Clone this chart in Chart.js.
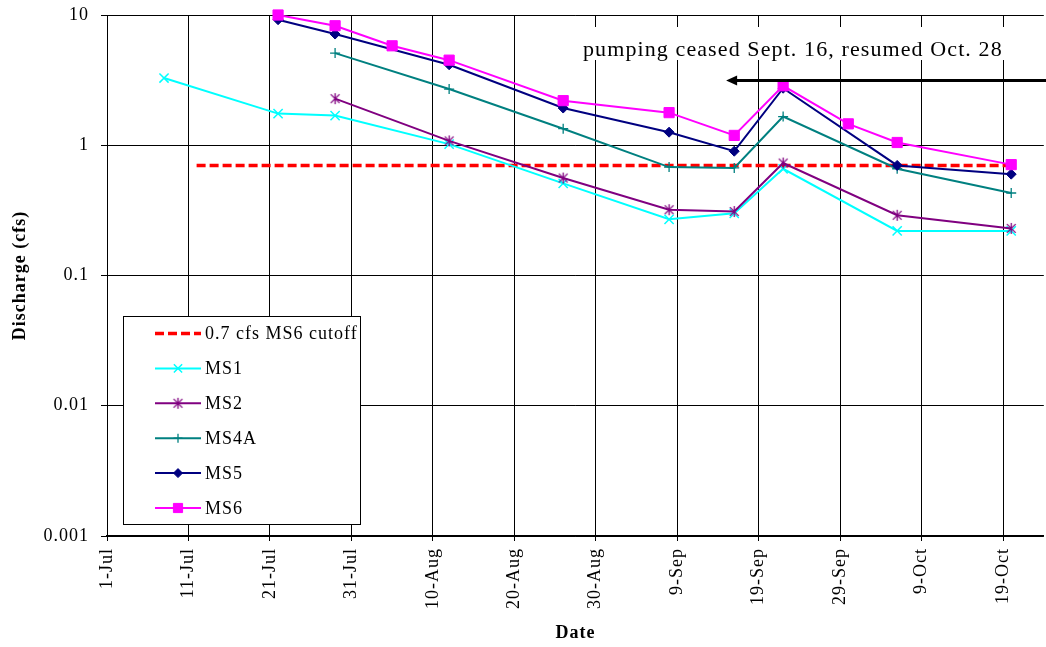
<!DOCTYPE html>
<html>
<head>
<meta charset="utf-8">
<script src="https://cdn.jsdelivr.net/npm/chart.js@4.4.1/dist/chart.umd.min.js"></script>
<style>
html,body{margin:0;padding:0;overflow:hidden;background:#fff;width:1046px;height:647px}
canvas{display:block}
</style>
</head>
<body>
<canvas id="c" width="1052" height="647"></canvas>
<script>
// ---------- data (dates as MM-DD, values in cfs) ----------
const monthNames = ['Jan','Feb','Mar','Apr','May','Jun','Jul','Aug','Sep','Oct','Nov','Dec'];
const seasonStart = '07-01';
const axisEnd = '10-24';
const xTickStepDays = 10;
const yTickValues = [0.001, 0.01, 0.1, 1, 10];

const cutoffDates  = ['07-12', '10-20'];
const cutoffValues = [0.7, 0.7];

const ms1Dates  = ['07-08','07-22','07-29','08-12','08-26','09-08','09-16','09-22','10-06','10-20'];
const ms1Values = [3.28, 1.75, 1.69, 1.02, 0.51, 0.27, 0.30, 0.66, 0.22, 0.22];

const ms2Dates  = ['07-29','08-12','08-26','09-08','09-16','09-22','10-06','10-20'];
const ms2Values = [2.28, 1.08, 0.56, 0.32, 0.31, 0.73, 0.29, 0.23];

const ms4aDates  = ['07-29','08-12','08-26','09-08','09-16','09-22','10-06','10-20'];
const ms4aValues = [5.1, 2.70, 1.34, 0.68, 0.67, 1.66, 0.66, 0.43];

const ms5Dates  = ['07-22','07-29','08-12','08-26','09-08','09-16','09-22','10-06','10-20'];
const ms5Values = [9.2, 7.14, 4.15, 1.93, 1.26, 0.90, 2.74, 0.70, 0.60];

const ms6Dates  = ['07-22','07-29','08-05','08-12','08-26','09-08','09-16','09-22','09-30','10-06','10-20'];
const ms6Values = [10.0, 8.27, 5.8, 4.5, 2.2, 1.78, 1.19, 2.86, 1.46, 1.05, 0.71];

const annotationText = 'pumping ceased Sept. 16, resumed Oct. 28';
const arrowFrom = '09-15';
const arrowTo = '10-28';

// ---------- helpers ----------
const YEAR = 2001;
function toUTC(md){ const [m,d] = md.split('-').map(Number); return Date.UTC(YEAR, m-1, d); }
function dayOf(md){ return (toUTC(md) - toUTC(seasonStart)) / 86400000; }
function labelOfDay(day){
  const dt = new Date(toUTC(seasonStart) + day*86400000);
  return dt.getUTCDate() + '-' + monthNames[dt.getUTCMonth()];
}
function pts(dates, values){ return dates.map((d,i)=>({x: dayOf(d), y: values[i]})); }

const SERIF = "'Liberation Serif', 'Times New Roman', serif";

// Excel-like star marker (X plus vertical bar)
function starCanvas(color, r){
  const s = Math.ceil(r*2+4), c = document.createElement('canvas');
  c.width = s; c.height = s;
  const g = c.getContext('2d'); const m = s/2;
  g.strokeStyle = color; g.lineWidth = 1.3;
  g.beginPath();
  g.moveTo(m-r*0.8, m-r*0.8); g.lineTo(m+r*0.8, m+r*0.8);
  g.moveTo(m+r*0.8, m-r*0.8); g.lineTo(m-r*0.8, m+r*0.8);
  g.moveTo(m, m-r); g.lineTo(m, m+r);
  g.stroke();
  return c;
}

const dsCutoff = {label:'0.7 cfs MS6 cutoff', data: pts(cutoffDates, cutoffValues), borderColor:'#FF0000',
  borderWidth:3.5, borderDash:[9,4], pointRadius:0, order:6};
const dsMS1 = {label:'MS1', data: pts(ms1Dates, ms1Values), borderColor:'#00FFFF', backgroundColor:'#00FFFF',
  borderWidth:2, pointStyle:'crossRot', pointRadius:6.5, pointBorderWidth:1.5, order:5};
const dsMS2 = {label:'MS2', data: pts(ms2Dates, ms2Values), borderColor:'#800080', backgroundColor:'#800080',
  borderWidth:2, pointStyle: starCanvas('#800080', 5.5), pointRadius:5.5, pointBorderWidth:1.3, order:4};
const dsMS4A = {label:'MS4A', data: pts(ms4aDates, ms4aValues), borderColor:'#008080', backgroundColor:'#008080',
  borderWidth:2, pointStyle:'cross', pointRadius:5, pointBorderWidth:1.3, order:3};
const dsMS5 = {label:'MS5', data: pts(ms5Dates, ms5Values), borderColor:'#000080', backgroundColor:'#000080',
  borderWidth:2, pointStyle:'rectRot', pointRadius:5, pointBorderWidth:1, order:2};
const dsMS6 = {label:'MS6', data: pts(ms6Dates, ms6Values), borderColor:'#FF00FF', backgroundColor:'#FF00FF',
  borderWidth:2, pointStyle:'rect', pointRadius:7.2, pointBorderWidth:1, order:1};

const datasets = [dsCutoff, dsMS1, dsMS2, dsMS4A, dsMS5, dsMS6];
datasets.forEach(d=>{ d.clip = false; d.tension = 0; d.fill = false; });

// ---------- plugins ----------
const spacingPlugin = {
  id:'spacing',
  beforeUpdate(chart){ chart.ctx.letterSpacing = '1px'; },
  beforeDraw(chart){ chart.ctx.letterSpacing = '1px'; }
};

const legendPlugin = {
  id:'boxLegend',
  afterDraw(chart){
    const ctx = chart.ctx;
    ctx.save();
    const bx = 123.5, by = 316.5, bw = 237, bh = 208;
    ctx.fillStyle = '#fff'; ctx.fillRect(bx, by, bw, bh);
    ctx.strokeStyle = '#000'; ctx.lineWidth = 1; ctx.setLineDash([]);
    ctx.strokeRect(bx, by, bw, bh);
    const rowY0 = 333.5, rowStep = 34.9;
    const x0 = 155, x1 = 201, xm = 178, tx = 205;
    datasets.forEach((d,i)=>{
      const y = rowY0 + i*rowStep;
      ctx.save();
      ctx.strokeStyle = d.borderColor; ctx.lineWidth = d.borderWidth;
      ctx.setLineDash(d.borderDash || []);
      ctx.beginPath(); ctx.moveTo(x0, y); ctx.lineTo(x1, y); ctx.stroke();
      ctx.setLineDash([]);
      if (d.pointRadius > 0){
        ctx.fillStyle = d.backgroundColor; ctx.strokeStyle = d.borderColor;
        ctx.lineWidth = d.pointBorderWidth;
        Chart.helpers.drawPoint(ctx, {pointStyle: d.pointStyle, radius: d.pointRadius*0.9, rotation:0, borderWidth: d.pointBorderWidth}, xm, y);
      }
      ctx.restore();
      ctx.fillStyle = '#000';
      ctx.font = '18px ' + SERIF;
      ctx.letterSpacing = '1px';
      ctx.textAlign = 'left'; ctx.textBaseline = 'middle';
      ctx.fillText(d.label, tx, y + 1);
    });
    ctx.restore();
  }
};

const annotationPlugin = {
  id:'pumpNote',
  afterDraw(chart){
    const ctx = chart.ctx, xs = chart.scales.x;
    ctx.save();
    ctx.font = '22px ' + SERIF;
    ctx.letterSpacing = '1.1px';
    const w = ctx.measureText(annotationText).width;
    const tx = 583, base = 56;
    ctx.fillStyle = '#fff';
    ctx.fillRect(tx - 6, 27, w + 12, 33);
    ctx.fillStyle = '#000';
    ctx.textAlign = 'left'; ctx.textBaseline = 'alphabetic';
    ctx.fillText(annotationText, tx, base);
    // arrow
    const ay = 80.5;
    const xa = xs.getPixelForValue(dayOf(arrowFrom));
    const xb = xs.getPixelForValue(dayOf(arrowTo));
    ctx.strokeStyle = '#000'; ctx.fillStyle = '#000'; ctx.lineWidth = 3;
    ctx.beginPath(); ctx.moveTo(xa + 8, ay); ctx.lineTo(xb - 8, ay); ctx.stroke();
    ctx.beginPath(); ctx.moveTo(xa, ay); ctx.lineTo(xa + 11, ay - 5); ctx.lineTo(xa + 11, ay + 5); ctx.closePath(); ctx.fill();
    ctx.beginPath(); ctx.moveTo(xb, ay); ctx.lineTo(xb - 11, ay - 5); ctx.lineTo(xb - 11, ay + 5); ctx.closePath(); ctx.fill();
    ctx.restore();
  }
};

// ---------- chart ----------
new Chart(document.getElementById('c'), {
  type: 'line',
  data: { datasets },
  plugins: [spacingPlugin, annotationPlugin, legendPlugin],
  options: {
    responsive: false,
    devicePixelRatio: 1,
    animation: false,
    layout: { padding: { top: 15, right: 3, bottom: 0, left: 0 } },
    plugins: { legend: { display: false }, tooltip: { enabled: false } },
    elements: { line: { tension: 0 } },
    scales: {
      x: {
        type: 'linear',
        min: 0,
        max: dayOf(axisEnd),
        afterBuildTicks(scale){
          const t = [];
          for (let v = 0; v <= dayOf(axisEnd); v += xTickStepDays) t.push({value: v});
          scale.ticks = t;
        },
        afterFit(scale){ scale.height = 111; scale.paddingLeft = 0; scale.paddingRight = 0; },
        ticks: {
          autoSkip: false, minRotation: 90, maxRotation: 90, padding: 7,
          color: '#000', font: { family: SERIF, size: 18 },
          callback: (v) => labelOfDay(v)
        },
        grid: { color: '#000', lineWidth: 1, tickLength: 5, drawTicks: true },
        border: { display: true, color: '#000', width: 1.5 },
        title: { display: true, text: 'Date', color: '#000', font: { family: SERIF, size: 18, weight: 'bold' },
          padding: { top: 0, bottom: 3 } }
      },
      y: {
        type: 'logarithmic',
        min: 0.001,
        max: 10,
        afterBuildTicks(scale){ scale.ticks = yTickValues.map(v => ({value: v})); },
        afterFit(scale){ scale.width = 107; scale.paddingTop = 0; scale.paddingBottom = 0; },
        ticks: {
          padding: 12, color: '#000', font: { family: SERIF, size: 18 },
          callback: (v) => String(v)
        },
        grid: { color: '#000', lineWidth: 1, tickLength: 6, drawTicks: true },
        border: { display: true, color: '#000', width: 1 },
        title: { display: true, text: 'Discharge (cfs)', color: '#000', font: { family: SERIF, size: 18, weight: 'bold' },
          padding: { top: 10, bottom: 0 } }
      }
    }
  }
});
</script>
</body>
</html>
